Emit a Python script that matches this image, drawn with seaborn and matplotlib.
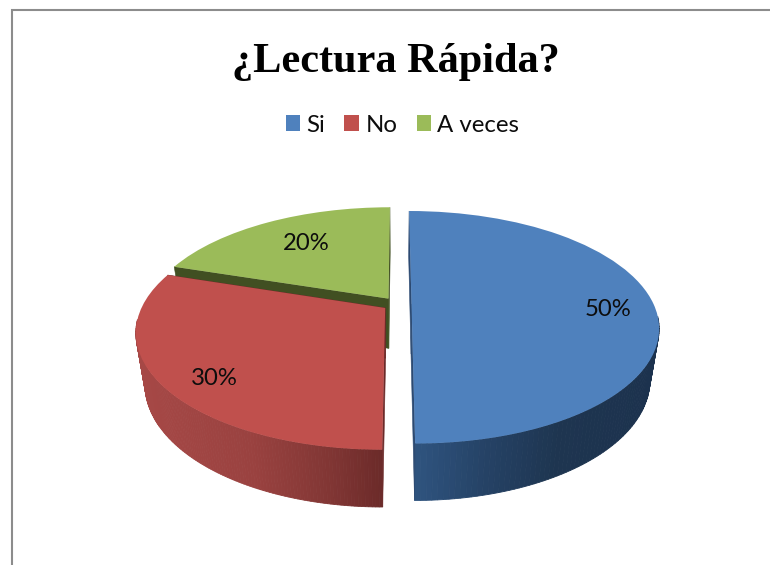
import matplotlib
matplotlib.use('Agg')
import matplotlib.pyplot as plt
import numpy as np
import seaborn as sns
from matplotlib.transforms import Transform

# Chart data
categories = ['Si', 'No', 'A veces']
percent = [50, 30, 20]
title_text = '¿Lectura Rápida?'

# Colours
top_colors = ['#4F81BD', '#C0504D', '#9BBB59']
edge_colors = ['#2C4A72', '#6B2A29', '#414F22']
wall_x = [[414, 480, 560, 655], [140, 250, 330, 384], [170, 280, 340, 390]]
wall_rgb = [['#2F5480', '#264468', '#1E3550', '#1C324E'],
            ['#A64846', '#9A4240', '#813634', '#6B2A29'],
            ['#4E6127', '#4E6127', '#4E6127', '#4E6127']]

# Projection of the pie plane on to the picture, in pixels
CX, CY = 397, 304
RX, RY = 242, 111.6
TILT = 0.2
DEPTH = 50
FX, FY = 0.965, 1.05

sns.set_theme(style='white')
plt.rcParams['font.family'] = ['Lato', 'DejaVu Sans']


class Tilted(Transform):
    input_dims = 2
    output_dims = 2

    def transform_non_affine(self, values):
        values = np.asarray(values, dtype=float)
        s = 1 / (1 + TILT * values[:, 1])
        return np.column_stack([CX + RX * values[:, 0] * s,
                                CY - RY * values[:, 1] * s])


def lower(xy):
    # same points on the bottom face of the pie
    return np.column_stack([CX + (xy[:, 0] - CX) * FX,
                            CY + (xy[:, 1] - CY) * FY + DEPTH])


def outer_wall(ax, wedge, stops_x, stops_rgb, zorder):
    thetas = np.radians(np.linspace(wedge.theta1, wedge.theta2, 160))
    # only the part of the rim that faces the viewer
    thetas = thetas[np.sin(thetas) <= -0.1]
    if len(thetas) < 2:
        return
    cu, cv = wedge.center
    rim = tilted.transform(np.column_stack([cu + np.cos(thetas), cv + np.sin(thetas)]))
    base = lower(rim)
    rgb = np.array([matplotlib.colors.to_rgb(c) for c in stops_rgb])
    for i in range(len(rim) - 1):
        x_mid = (rim[i, 0] + rim[i + 1, 0]) / 2
        col = [np.interp(x_mid, stops_x, rgb[:, k]) for k in range(3)]
        ax.fill([rim[i, 0], rim[i + 1, 0], base[i + 1, 0], base[i, 0]],
                [rim[i, 1], rim[i + 1, 1], base[i + 1, 1], base[i, 1]],
                color=col, lw=0.6, zorder=zorder)


def radial_wall(ax, wedge, angle, color, zorder):
    cu, cv = wedge.center
    t = np.radians(angle)
    top = tilted.transform(np.array([[cu + np.cos(t), cv + np.sin(t)], [cu, cv]]))
    bot = lower(top)
    ax.fill([top[0, 0], top[1, 0], bot[1, 0], bot[0, 0]],
            [top[0, 1], top[1, 1], bot[1, 1], bot[0, 1]],
            color=color, lw=0.4, zorder=zorder)


fig = plt.figure(figsize=(7.7, 5.65), dpi=100)
ax = fig.add_axes([0, 0, 1, 1])
tilted = Tilted()

wedges, texts, autotexts = ax.pie(percent, explode=[0.06, 0.06, 0.06], startangle=90,
                                  counterclock=False, colors=sns.color_palette(top_colors),
                                  autopct='%d%%', pctdistance=0.8)
ax.set_aspect('auto')
ax.set_xlim(0, 770)
ax.set_ylim(565, 0)
ax.axis('off')

# Draw from the back slice to the front one
order = {2: 1, 1: 4, 0: 7}
for i, w in enumerate(wedges):
    base_z = order[i]
    w.set_transform(tilted + ax.transData)
    w.set_zorder(base_z + 2)
    w.set_linewidth(0)
    outer_wall(ax, w, wall_x[i], wall_rgb[i], base_z)
    radial_wall(ax, w, w.theta1, edge_colors[i], base_z + 1)
    radial_wall(ax, w, w.theta2, edge_colors[i], base_z + 1)

# Percent labels sit on the top face
label_shift = [(3, 6), (5, 12), (17, 8)]
for t, (dx, dy) in zip(autotexts, label_shift):
    pos = tilted.transform(np.array([t.get_position()]))[0]
    t.set_transform(ax.transData)
    t.set_position((pos[0] + dx, pos[1] + dy))
    t.set_fontsize(17.2)
    t.set_color('#0d0d0d')
    t.set_zorder(20)

ax.plot([11.5, 11.5, 770], [565, 9.5, 9.5], color='#8C8C8C', lw=1.5, zorder=30,
        solid_joinstyle='miter')

ax.text(396, 62, title_text, ha='center', va='center', fontsize=30.4, fontweight='bold',
        family=['Liberation Serif'], color='black', zorder=20)

ax.legend(wedges, categories, loc='center', bbox_to_anchor=(402.5 / 770, 1 - 125 / 565),
          ncol=3, frameon=False, fontsize=17.3, handlelength=0.62, handleheight=0.62,
          handletextpad=0.25, columnspacing=0.8, labelcolor='#0d0d0d')

fig.savefig('out.png', dpi=100)
